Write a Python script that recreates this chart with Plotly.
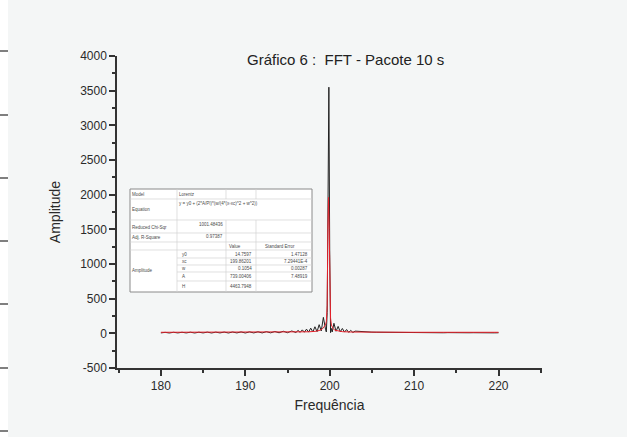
import plotly.graph_objects as go

# ---------------- data ----------------
freq_black = [180.0, 180.5, 181.0, 181.5, 182.0, 182.5, 183.0, 183.5, 184.0, 184.5,
              185.0, 185.5, 186.0, 186.5, 187.0, 187.5, 188.0, 188.5, 189.0, 189.5,
              190.0, 190.5, 191.0, 191.5, 192.0, 192.5, 193.0, 193.5, 194.0, 194.5,
              195.0, 195.5, 196.0, 196.25, 196.5, 196.75, 197.0, 197.25, 197.5, 197.75,
              198.0, 198.25, 198.5, 198.75, 199.0, 199.25, 199.5, 199.6, 199.7, 199.8,
              199.9, 200.0, 200.1, 200.2, 200.3, 200.5, 200.75, 201.0, 201.25, 201.5,
              201.75, 202.0, 202.25, 202.5, 202.75, 203.0, 203.5, 204.0, 204.5, 205.0,
              205.5, 206.0, 206.5, 207.0, 207.5, 208.0, 208.5, 209.0, 209.5, 210.0,
              210.5, 211.0, 211.5, 212.0, 212.5, 213.0, 213.5, 214.0, 214.5, 215.0,
              215.5, 216.0, 216.5, 217.0, 217.5, 218.0, 218.5, 219.0, 219.5, 220.0]
amp_black = [6, 14, 5, 15, 6, 15, 6, 16, 5, 16,
             6, 17, 5, 17, 6, 18, 5, 19, 6, 20,
             5, 21, 6, 22, 6, 24, 7, 26, 8, 30,
             9, 34, 12, 42, 14, 50, 16, 60, 18, 75,
             20, 95, 25, 125, 35, 230, 60, 20, 300, 1800,
             3550, 1200, 10, 70, 20, 145, 30, 100, 22, 70,
             18, 55, 14, 42, 12, 32, 26, 22, 19, 17,
             16, 15, 14, 13, 12, 12, 11, 12, 10, 11,
             10, 11, 9, 10, 9, 10, 8, 10, 8, 10,
             8, 9, 8, 9, 7, 9, 7, 9, 7, 8]

freq_fit = [180.0, 185.0, 190.0, 193.0, 195.0, 196.5, 197.5, 198.25, 198.75, 199.1,
            199.35, 199.5, 199.6, 199.7, 199.78, 199.86, 199.94, 200.02, 200.1, 200.2,
            200.4, 200.6, 201.0, 201.5, 202.5, 204.0, 206.0, 210.0, 215.0, 220.0]
amp_fit = [15, 15, 15, 16, 17, 19, 22, 28, 40, 60,
           90, 120, 170, 400, 1500, 1960, 1500, 500, 220, 120,
           70, 45, 32, 24, 19, 17, 16, 15, 15, 15]

x_ticks = [180, 190, 200, 210, 220]
y_ticks = [-500, 0, 500, 1000, 1500, 2000, 2500, 3000, 3500, 4000]
y_tick_labels = ["-500", "0", "500", "1000", "1500", "2000", "2500", "3000", "3500", "4000"]

fit_labels = ["Model", "Equation", "Reduced Chi-Sqr", "Adj. R-Square"]
fit_info = ["Lorentz", "y = y0 + (2*A/PI)*(w/(4*(x-xc)^2 + w^2))", "1001.48436", "0.97387"]
param_names = ["y0", "xc", "w", "A", "H"]
param_values = ["14.7597", "199.86201", "0.1054", "739.00406", "4463.7948"]
param_errors = ["1.47128", "7.29441E-4", "0.00287", "7.48919", ""]

# ---------------- figure ----------------
W, H = 627, 437
L, R, T, B = 117, 85, 56, 69
PW, PH = W - L - R, H - T - B
BG = "#f4f6f6"
fig = go.Figure()
fig.add_trace(go.Scatter(x=freq_black, y=amp_black, mode="lines",
                         line=dict(color="#222222", width=1), showlegend=False))
fig.add_trace(go.Scatter(x=freq_fit, y=amp_fit, mode="lines",
                         line=dict(color="#e8202a", width=1), showlegend=False))

def px(x):
    return (x - L) / PW

def py(y):
    return (H - B - y) / PH

shapes = []
annotations = []

# left ruler marks
shapes.append(dict(type="rect", xref="paper", yref="paper", x0=px(0), x1=px(8),
                   y0=py(H), y1=py(0), fillcolor="#ffffff", line=dict(width=0),
                   layer="below"))
for yy in [51, 115, 178, 241, 304, 368, 431]:
    shapes.append(dict(type="line", xref="paper", yref="paper", x0=px(0), x1=px(8),
                       y0=py(yy), y1=py(yy), line=dict(color="#555555", width=1.5)))

# table
tx0, tx1, ty0, ty1 = 130, 312, 189, 292
cols = [130, 177, 226, 256, 312]
shapes.append(dict(type="rect", xref="paper", yref="paper", x0=px(tx0), x1=px(tx1),
                   y0=py(ty1), y1=py(ty0), fillcolor="#ffffff",
                   line=dict(color="#8a8a8a", width=1)))
gl = dict(color="#d2d2d2", width=0.7)
for r in [199, 220, 233, 242, 250]:
    shapes.append(dict(type="line", xref="paper", yref="paper", x0=px(tx0), x1=px(tx1),
                       y0=py(r), y1=py(r), line=gl))
for r in [258, 265, 272, 281]:
    shapes.append(dict(type="line", xref="paper", yref="paper", x0=px(cols[1]), x1=px(tx1),
                       y0=py(r), y1=py(r), line=gl))
shapes.append(dict(type="line", xref="paper", yref="paper", x0=px(cols[1]), x1=px(cols[1]),
                   y0=py(ty1), y1=py(ty0), line=gl))
for c in cols[2:4]:
    shapes.append(dict(type="line", xref="paper", yref="paper", x0=px(c), x1=px(c),
                       y0=py(ty1), y1=py(220), line=gl))
    shapes.append(dict(type="line", xref="paper", yref="paper", x0=px(c), x1=px(c),
                       y0=py(199), y1=py(ty0), line=gl))

tf = dict(family="Liberation Sans, Arial", size=4.5, color="#4a4a4a")

def txt(x, y, s, anchor="left"):
    annotations.append(dict(xref="paper", yref="paper", x=px(x), y=py(y), text=s,
                            showarrow=False, xanchor=anchor, yanchor="middle", font=tf,
                            borderpad=0))

label_y = [194, 209, 227, 238]
for lab, yy in zip(fit_labels, label_y):
    txt(cols[0] + 1, yy, lab)
txt(cols[1] + 1, 194, fit_info[0])
txt(cols[1] + 1, 203, fit_info[1])
txt(cols[2] - 2, 224, fit_info[2], "right")
txt(cols[2] - 2, 237, fit_info[3], "right")
txt(cols[2] + 2, 246, "Value")
txt(cols[3] + 8, 246, "Standard Error")
txt(cols[0] + 1, 270, "Amplitude")
row_c = [254, 261.5, 268.5, 276.5, 286]
for n, v, e, yy in zip(param_names, param_values, param_errors, row_c):
    txt(cols[1] + 4, yy, n)
    txt(cols[3] - 3, yy, v, "right")
    if e:
        txt(tx1 - 3, yy, e, "right")

# title
annotations.append(dict(xref="paper", yref="paper", x=px(345), y=py(60),
                        text="Gráfico 6 :  FFT - Pacote 10 s", showarrow=False,
                        xanchor="center", yanchor="middle",
                        font=dict(family="Liberation Sans, Arial", size=15, color="#222222")))

fig.update_layout(
    width=W, height=H,
    margin=dict(l=L, r=R, t=T, b=B),
    paper_bgcolor=BG, plot_bgcolor=BG,
    shapes=shapes, annotations=annotations,
    font=dict(family="Liberation Sans, Arial", size=12, color="#2a2a2a"),
    xaxis=dict(range=[174.8, 225.15], tickvals=x_ticks, showgrid=False, zeroline=False,
               showline=True, linecolor="#333333", linewidth=1.5, ticks="outside",
               ticklen=6, tickwidth=1.5, tickcolor="#333333",
               minor=dict(tickvals=[175, 185, 195, 205, 215, 225], ticks="outside",
                          ticklen=3, tickwidth=1.5, tickcolor="#333333", showgrid=False),
               title=dict(text="Frequência", font=dict(size=14), standoff=8),
               tickfont=dict(size=12)),
    yaxis=dict(range=[-500, 4000], tickvals=y_ticks, ticktext=y_tick_labels,
               showgrid=False, zeroline=False,
               showline=True, linecolor="#333333", linewidth=1.5, ticks="outside",
               ticklen=6, tickwidth=1.5, tickcolor="#333333",
               minor=dict(tickvals=[-250, 250, 750, 1250, 1750, 2250, 2750, 3250, 3750],
                          ticks="outside", ticklen=3, tickwidth=1.5, tickcolor="#333333",
                          showgrid=False),
               title=dict(text="Amplitude", font=dict(size=14), standoff=16),
               tickfont=dict(size=12)),
)

fig.write_html("out.html")
